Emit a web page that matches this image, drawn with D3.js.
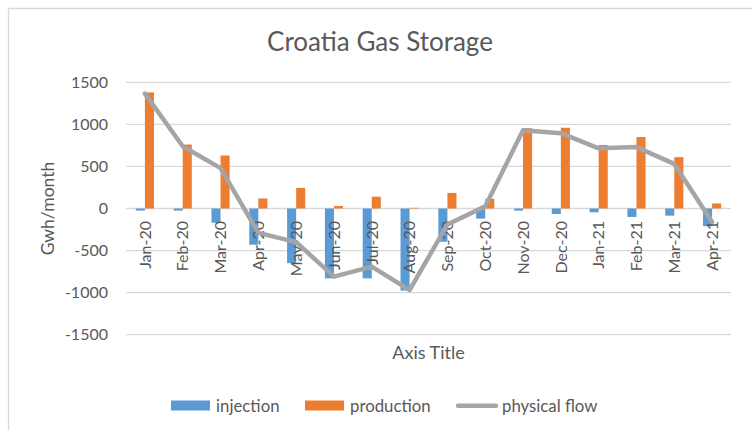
<!DOCTYPE html>
<html>
<head>
<meta charset="utf-8">
<script src="https://cdn.jsdelivr.net/npm/d3@7"></script>
<style>
  html, body { margin: 0; padding: 0; background: #fff; }
  svg { display: block; }
  text { font-family: Lato, "Open Sans", sans-serif; fill: #595959; }
</style>
</head>
<body>
<svg id="chart" width="752" height="430"></svg>
<script>
const categories = ["Jan-20","Feb-20","Mar-20","Apr-20","May-20","Jun-20","Jul-20","Aug-20","Sep-20","Oct-20","Nov-20","Dec-20","Jan-21","Feb-21","Mar-21","Apr-21"];
const injection  = [-25, -25, -170, -430, -650, -830, -830, -975, -395, -120, -25, -65, -45, -100, -85, -210];
const production = [1380, 760, 630, 120, 245, 30, 140, 8, 185, 115, 955, 960, 755, 850, 610, 60];
const physicalFlow = [1365, 740, 480, -290, -400, -810, -690, -970, -190, 25, 930, 895, 715, 730, 530, -160];
const yTicks = [-1500, -1000, -500, 0, 500, 1000, 1500];
const seriesNames = ["injection", "production", "physical flow"];
const colors = { injection: "#5b9bd5", production: "#ed7d31", flow: "#a5a5a5" };

const svg = d3.select("#chart");

// chart border
svg.append("path")
  .attr("d", "M8.5,760 L8.5,8.5 L760,8.5")
  .attr("fill", "none").attr("stroke", "#d9d9d9").attr("stroke-width", 1.3);

const plot = { left: 126, right: 731, top: 82.3, bottom: 334.7 };

const x = d3.scaleBand().domain(categories).range([plot.left, plot.right])
  .paddingInner(0.52).paddingOuter(0.26);
const xc = d3.scaleBand().domain(categories).range([plot.left, plot.right]);
const y = d3.scaleLinear().domain([-1500, 1500]).range([plot.bottom, plot.top]);

// gridlines
svg.append("g").selectAll("line").data(yTicks).join("line")
  .attr("x1", plot.left).attr("x2", plot.right)
  .attr("y1", d => y(d)).attr("y2", d => y(d))
  .attr("stroke", "#d9d9d9").attr("stroke-width", 1.3);

// y tick labels
svg.append("g").selectAll("text").data(yTicks).join("text")
  .attr("x", 108).attr("y", d => y(d)).attr("dy", "0.36em")
  .attr("text-anchor", "end").style("font-size", "16px")
  .text(d => String(d));

const bw = x.bandwidth() / 2;
// bars
svg.append("g").selectAll("rect").data(categories).join("rect")
  .attr("x", d => x(d))
  .attr("width", bw)
  .attr("y", (d, i) => y(Math.max(0, injection[i])))
  .attr("height", (d, i) => Math.abs(y(injection[i]) - y(0)))
  .attr("fill", colors.injection);
svg.append("g").selectAll("rect").data(categories).join("rect")
  .attr("x", d => x(d) + bw)
  .attr("width", bw)
  .attr("y", (d, i) => y(Math.max(0, production[i])))
  .attr("height", (d, i) => Math.abs(y(production[i]) - y(0)))
  .attr("fill", colors.production);

// x labels
svg.append("g").selectAll("text").data(categories).join("text")
  .attr("transform", d => `translate(${xc(d) + xc.bandwidth() / 2},221) rotate(-90)`)
  .attr("text-anchor", "end").attr("dy", "0.36em")
  .style("font-size", "16px")
  .text(d => d);

// line
const line = d3.line()
  .x((d, i) => xc(categories[i]) + xc.bandwidth() / 2)
  .y(d => y(d));
svg.append("path").datum(physicalFlow)
  .attr("d", line).attr("fill", "none")
  .attr("stroke", colors.flow).attr("stroke-width", 4.5)
  .attr("stroke-linejoin", "round").attr("stroke-linecap", "round");

// title
svg.append("text").attr("x", 380).attr("y", 51).attr("text-anchor", "middle")
  .style("font-size", "26px").text("Croatia Gas Storage");

// axis titles
svg.append("text").attr("x", (plot.left + plot.right) / 2).attr("y", 359)
  .attr("text-anchor", "middle").style("font-size", "18px").text("Axis Title");
svg.append("text").attr("transform", `translate(54,${(plot.top + plot.bottom) / 2}) rotate(-90)`)
  .attr("text-anchor", "middle").style("font-size", "17.5px").text("Gwh/month");

// legend
const lg = svg.append("g");
lg.append("rect").attr("x", 171).attr("y", 400.5).attr("width", 39).attr("height", 10).attr("fill", colors.injection);
lg.append("text").attr("x", 216).attr("y", 406).attr("dy", "0.36em").style("font-size", "16.8px").text(seriesNames[0]);
lg.append("rect").attr("x", 305).attr("y", 400.5).attr("width", 39).attr("height", 10).attr("fill", colors.production);
lg.append("text").attr("x", 350).attr("y", 406).attr("dy", "0.36em").style("font-size", "16.8px").text(seriesNames[1]);
lg.append("line").attr("x1", 458).attr("x2", 496).attr("y1", 405.7).attr("y2", 405.7)
  .attr("stroke", colors.flow).attr("stroke-width", 4.5).attr("stroke-linecap", "round");
lg.append("text").attr("x", 502).attr("y", 406).attr("dy", "0.36em").style("font-size", "16.8px").text(seriesNames[2]);
</script>
</body>
</html>
